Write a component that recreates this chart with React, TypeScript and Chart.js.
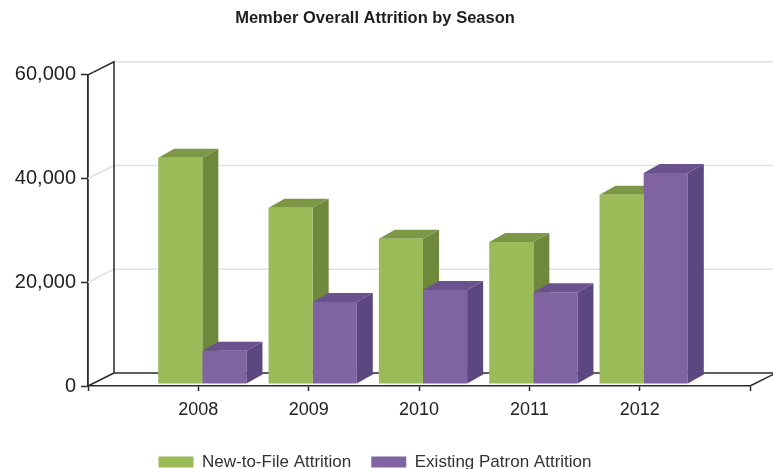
import React, { useEffect, useRef } from 'react';
import { Chart, registerables } from 'chart.js';

Chart.register(...registerables);

// ---- data ----
const chartTitle = 'Member Overall Attrition by Season';
const seasons = ['2008', '2009', '2010', '2011', '2012'];
const newToFile = [43600, 34000, 28000, 27400, 36500];
const existingPatron = [6400, 15800, 18100, 17700, 40700];
const seriesNames = ['New-to-File Attrition', 'Existing Patron Attrition'];
const yMin = 0;
const yMax = 60000;
const yStep = 20000;

// ---- styles ----
const FRONT = ['#9bbb59', '#8064a2'];
const TOP = ['#7c9847', '#6a528f'];
const SIDE = ['#6e893c', '#5c4780'];
const FRAME = '#2a2a2a';
const GRID = '#e2e2e2';
const FONT = "'Liberation Sans', Arial, Helvetica, sans-serif";

const WALL = { dx: 26, dy: -13 };
const BAR_DEPTH = { dx: 16, dy: -9 };
const BAR_SHIFT = { dx: 4, dy: -2 };

function drawFaces(chart: any, idx: number) {
  const { ctx } = chart;
  const meta = chart.getDatasetMeta(idx);
  const data = chart.data.datasets[idx].data;
  meta.data.forEach((el: any, i: number) => {
    if (data[i] === null || data[i] === undefined) return;
    const { x, y, base, width } = el.getProps(['x', 'y', 'base', 'width'], true);
    const l = x - width / 2;
    const r = x + width / 2;
    // side face
    ctx.fillStyle = SIDE[idx];
    ctx.beginPath();
    ctx.moveTo(r, y);
    ctx.lineTo(r + BAR_DEPTH.dx, y + BAR_DEPTH.dy);
    ctx.lineTo(r + BAR_DEPTH.dx, base + BAR_DEPTH.dy);
    ctx.lineTo(r, base);
    ctx.closePath();
    ctx.fill();
    // top face
    ctx.fillStyle = TOP[idx];
    ctx.beginPath();
    ctx.moveTo(l, y);
    ctx.lineTo(r, y);
    ctx.lineTo(r + BAR_DEPTH.dx, y + BAR_DEPTH.dy);
    ctx.lineTo(l + BAR_DEPTH.dx, y + BAR_DEPTH.dy);
    ctx.closePath();
    ctx.fill();
  });
}

const threeD = {
  id: 'threeD',
  beforeDatasetsDraw(chart: any) {
    const { ctx, chartArea, scales } = chart;
    const ys = scales.y;
    const L = chartArea.left;
    const R = chartArea.right;
    const B = chartArea.bottom;
    const T = chartArea.top;
    const W = chart.width;
    ctx.save();
    ctx.lineCap = 'butt';
    // light grid lines on back wall + left wall
    ctx.strokeStyle = GRID;
    ctx.lineWidth = 1.5;
    ys.ticks.forEach((t: any) => {
      const yf = ys.getPixelForValue(t.value);
      if (t.value === ys.min) return;
      ctx.beginPath();
      ctx.moveTo(L + WALL.dx, yf + WALL.dy);
      ctx.lineTo(W, yf + WALL.dy);
      if (t.value !== ys.max) {
        ctx.moveTo(L, yf);
        ctx.lineTo(L + WALL.dx, yf + WALL.dy);
      }
      ctx.stroke();
    });
    // dark frame
    ctx.strokeStyle = FRAME;
    ctx.lineWidth = 1.5;
    ctx.beginPath();
    ctx.moveTo(L, T);
    ctx.lineTo(L + WALL.dx, T + WALL.dy);
    ctx.lineTo(L + WALL.dx, B + WALL.dy);
    ctx.lineTo(R + WALL.dx, B + WALL.dy);
    ctx.lineTo(R, B);
    ctx.moveTo(L, B);
    ctx.lineTo(L + WALL.dx, B + WALL.dy);
    ctx.stroke();
    ctx.restore();

    // bars sit a little inside the floor depth
    ctx.save();
    ctx.translate(BAR_SHIFT.dx, BAR_SHIFT.dy);
    // Chart.js paints datasets last-to-first; the first series' hidden faces go first
    const n = chart.data.datasets.length;
    for (let i = 0; i < n - 1; i++) drawFaces(chart, i);
  },
  afterDatasetDraw(chart: any, args: any) {
    const n = chart.data.datasets.length;
    if (args.index === n - 1) drawFaces(chart, args.index);
  },
  afterDatasetsDraw(chart: any) {
    chart.ctx.restore();
  },
};

export default function App() {
  const canvasRef = useRef<HTMLCanvasElement | null>(null);

  useEffect(() => {
    if (!canvasRef.current) return;
    Chart.defaults.font.family = FONT;
    const labels = ['', ...seasons, ''];
    const pad = (arr: number[]) => [null, ...arr, null];
    const chart = new Chart(canvasRef.current, {
      type: 'bar',
      data: {
        labels,
        datasets: [
          {
            label: seriesNames[0],
            data: pad(newToFile),
            backgroundColor: FRONT[0],
            borderWidth: 0,
            categoryPercentage: 0.8,
            barPercentage: 1.0,
            clip: false,
          },
          {
            label: seriesNames[1],
            data: pad(existingPatron),
            backgroundColor: FRONT[1],
            borderWidth: 0,
            categoryPercentage: 0.8,
            barPercentage: 1.0,
            clip: false,
          },
        ],
      },
      options: {
        responsive: false,
        animation: false,
        layout: { padding: { left: 0, right: 23, top: 0, bottom: 0 } },
        plugins: {
          title: {
            display: true,
            text: chartTitle,
            color: '#1e1e1e',
            font: { size: 16.5, weight: 'bold', family: FONT, lineHeight: 1.2 },
            padding: { top: 9, bottom: 46 },
          },
          legend: {
            position: 'bottom',
            maxHeight: 35.5,
            labels: {
              boxWidth: 35,
              boxHeight: 11,
              padding: 20,
              color: '#333333',
              font: { size: 17, family: FONT },
            },
          },
          tooltip: { enabled: false },
        },
        scales: {
          x: {
            offset: false,
            afterFit: (s: any) => {
              s.height = 47.5;
            },
            grid: {
              offset: false,
              drawOnChartArea: false,
              drawTicks: true,
              tickLength: 5,
              tickColor: FRAME,
              tickWidth: 1.5,
            },
            border: { display: true, color: FRAME, width: 1.5 },
            ticks: {
              autoSkip: false,
              maxRotation: 0,
              padding: 8,
              color: '#222222',
              font: { size: 18, family: FONT },
            },
          },
          y: {
            min: yMin,
            max: yMax,
            afterFit: (s: any) => {
              s.width = 88;
            },
            grid: {
              drawOnChartArea: false,
              drawTicks: true,
              tickLength: 7,
              tickColor: FRAME,
              tickWidth: 1.5,
            },
            border: { display: true, color: FRAME, width: 1.8 },
            ticks: {
              stepSize: yStep,
              padding: 5,
              color: '#222222',
              font: { size: 20, family: FONT },
              callback: (v: any) => Number(v).toLocaleString('en-US'),
            },
          },
        },
      },
      plugins: [threeD],
    });
    return () => chart.destroy();
  }, []);

  return (
    <div style={{ position: 'absolute', left: 0, top: 0, width: 773, height: 469, background: '#ffffff' }}>
      <canvas ref={canvasRef} width={773} height={469} style={{ display: 'block' }} />
    </div>
  );
}
